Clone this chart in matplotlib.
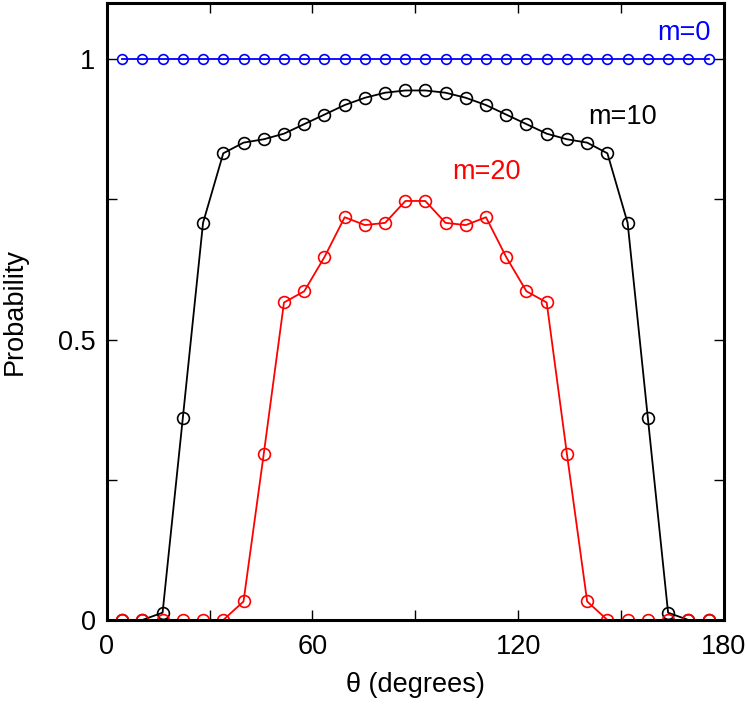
import matplotlib
matplotlib.use('Agg')
import matplotlib.pyplot as plt

plt.rcParams['font.family'] = ['Liberation Sans', 'DejaVu Sans']

theta = [4.5, 10.4, 16.3, 22.2, 28.1, 34.0, 39.9, 45.8, 51.7, 57.6,
         63.5, 69.4, 75.3, 81.2, 87.1, 92.9, 98.8, 104.7, 110.6, 116.5,
         122.4, 128.3, 134.2, 140.1, 146.0, 151.9, 157.8, 163.7, 169.6, 175.5]

p_m0 = [1.0] * 30

p_m10 = [0.0, 0.0, 0.013, 0.36, 0.708, 0.832, 0.851, 0.857, 0.867, 0.884,
         0.901, 0.918, 0.931, 0.940, 0.944, 0.944, 0.940, 0.931, 0.918, 0.901,
         0.884, 0.867, 0.857, 0.851, 0.832, 0.708, 0.36, 0.013, 0.0, 0.0]

p_m20 = [0.0, 0.0, 0.0, 0.0, 0.0, 0.0, 0.033, 0.296, 0.566, 0.586,
         0.647, 0.718, 0.704, 0.708, 0.747, 0.747, 0.708, 0.704, 0.718, 0.647,
         0.586, 0.566, 0.296, 0.033, 0.0, 0.0, 0.0, 0.0, 0.0, 0.0]

x_ticks = [0, 60, 120, 180]
x_minor = [30, 90, 150]
y_ticks = [0, 0.5, 1]
y_tick_labels = ['0', '0.5', '1']
y_minor = [0.25, 0.75]

fs = 19.5

fig = plt.figure(figsize=(7.47, 7.07), dpi=100)
ax = fig.add_axes([0.1428, 0.1231, 0.8264, 0.8727])

ax.plot(theta, p_m10, color='black', lw=1.3, marker='o', ms=8.5,
        mfc='none', mec='black', mew=1.2)
ax.plot(theta, p_m20, color='red', lw=1.3, marker='o', ms=8.5,
        mfc='none', mec='red', mew=1.2)
ax.plot(theta, p_m0, color='blue', lw=1.3, marker='o', ms=7,
        mfc='none', mec='blue', mew=1.2)

ax.text(160.4, 1.034, 'm=0', color='blue', fontsize=fs)
ax.text(140.3, 0.884, 'm=10', color='black', fontsize=fs)
ax.text(100.7, 0.786, 'm=20', color='red', fontsize=fs)

ax.set_xlim(0, 180)
ax.set_ylim(0, 1.1)
ax.set_xticks(x_ticks)
ax.set_xticks(x_minor, minor=True)
ax.set_yticks(y_ticks)
ax.set_yticklabels(y_tick_labels)
ax.set_yticks(y_minor, minor=True)

ax.tick_params(which='both', direction='in', top=True, right=True,
               length=7, width=1, labelsize=fs)
ax.tick_params(axis='x', which='major', pad=10)
ax.tick_params(axis='y', which='major', pad=8)
for s in ax.spines.values():
    s.set_linewidth(2.2)

ax.set_xlabel('θ (degrees)', fontsize=fs, labelpad=9)
ax.set_ylabel('Probability', fontsize=fs, labelpad=22)

fig.savefig('out.png', dpi=100)
